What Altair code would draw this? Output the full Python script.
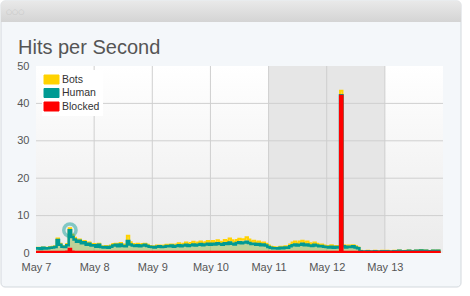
import altair as alt
import pandas as pd

# ---------------- data (hourly, May 7 00:00 UTC .. May 13 23:00 UTC, 2013) ----------------
series_names = ["Bots", "Human", "Blocked"]
series_colors = ["#FFD200", "#009A93", "#FF0000"]

human = (
    [0.9, 1.0, 0.8, 1.1, 0.9, 1.0, 1.1, 1.2, 1.3, 3.2, 1.9, 1.4, 1.3, 1.7, 5.0, 3.9, 3.3, 2.7, 3.0, 2.3, 2.6, 1.9, 2.2, 1.7]
    + [1.8, 1.4, 1.9, 1.3, 1.2, 1.3, 1.1, 1.4, 1.7, 1.9, 1.5, 2.0, 1.6, 1.5, 2.9, 2.0, 1.7, 1.6, 1.8, 1.5, 1.7, 1.9, 1.6, 1.4]
    + [1.3, 1.2, 1.4, 1.5, 1.3, 1.4, 1.6, 1.5, 1.7, 1.4, 1.6, 1.8, 1.5, 1.7, 1.9, 1.6, 1.8, 2.0, 1.7, 1.9, 2.1, 1.8, 2.0, 2.2]
    + [1.9, 2.2, 2.0, 2.3, 2.1, 1.9, 2.3, 2.1, 2.5, 2.2, 2.0, 2.4, 2.6, 2.3, 2.5, 2.7, 2.4, 2.1, 2.2, 1.9, 2.1, 1.8, 2.0, 1.7]
    + [1.3, 1.1, 1.0, 1.0, 0.9, 1.1, 1.0, 1.2, 1.1, 1.5, 1.8, 2.0, 1.7, 1.9, 2.2, 1.8, 2.0, 1.7, 1.6, 1.9, 1.7, 1.5, 1.6, 1.4]
    + [1.3, 1.2, 1.4, 1.1, 1.3, 1.2, 0.2, 1.5, 1.2, 1.4, 1.3, 1.5, 1.2, 1.0, 0.2, 0.1, 0.1, 0.2, 0.1, 0.1, 0.2, 0.1, 0.1, 0.2]
    + [0.1, 0.2, 0.1, 0.1, 0.2, 0.1, 0.3, 0.2, 0.1, 0.2, 0.3, 0.2, 0.1, 0.3, 0.2, 0.4, 0.2, 0.3, 0.2, 0.1, 0.3, 0.2, 0.3, 0.2]
)
bots = (
    [0.2, 0.1, 0.2, 0.1, 0.2, 0.1, 0.2, 0.2, 0.2, 0.4, 0.3, 0.2, 0.2, 0.3, 0.5, 0.6, 0.5, 0.4, 0.3, 0.3, 0.3, 0.2, 0.3, 0.2]
    + [0.3, 0.2, 0.3, 0.2, 0.2, 0.3, 0.2, 0.3, 0.4, 0.3, 0.3, 0.4, 0.3, 0.5, 1.4, 0.6, 0.4, 0.3, 0.4, 0.3, 0.4, 0.3, 0.3, 0.2]
    + [0.2, 0.2, 0.3, 0.2, 0.2, 0.3, 0.3, 0.4, 0.3, 0.3, 0.4, 0.5, 0.4, 0.5, 0.6, 0.5, 0.6, 0.7, 0.5, 0.6, 0.7, 0.5, 0.6, 0.7]
    + [0.6, 0.7, 0.5, 0.8, 0.6, 0.7, 0.9, 0.8, 1.1, 0.9, 0.7, 0.8, 0.9, 1.0, 0.9, 1.2, 0.9, 0.7, 0.8, 0.6, 0.7, 0.6, 0.5, 0.5]
    + [0.4, 0.3, 0.3, 0.2, 0.3, 0.3, 0.2, 0.3, 0.3, 0.5, 0.7, 0.8, 0.6, 0.9, 0.8, 0.7, 0.8, 0.6, 0.5, 0.6, 0.5, 0.4, 0.4, 0.3]
    + [0.3, 0.3, 0.4, 0.3, 0.3, 0.4, 1.2, 0.3, 0.4, 0.3, 0.4, 0.3, 0.3, 0.2, 0.1, 0.0, 0.0, 0.1, 0.0, 0.0, 0.1, 0.0, 0.0, 0.1]
    + [0.0, 0.1, 0.0, 0.0, 0.1, 0.0, 0.1, 0.0, 0.0, 0.1, 0.1, 0.0, 0.0, 0.1, 0.0, 0.1, 0.0, 0.1, 0.0, 0.0, 0.1, 0.0, 0.1, 0.0]
)
blocked = (
    [0.3, 0.3, 0.3, 0.3, 0.3, 0.3, 0.3, 0.3, 0.3, 0.3, 0.3, 0.3, 0.3, 0.4, 1.1, 0.4, 0.3, 0.3, 0.3, 0.3, 0.3, 0.3, 0.3, 0.3]
    + [0.3, 0.3, 0.3, 0.3, 0.3, 0.3, 0.3, 0.3, 0.3, 0.3, 0.3, 0.3, 0.3, 0.3, 0.3, 0.3, 0.3, 0.3, 0.3, 0.3, 0.3, 0.3, 0.3, 0.3]
    + [0.3, 0.3, 0.3, 0.3, 0.3, 0.3, 0.3, 0.3, 0.3, 0.3, 0.3, 0.3, 0.3, 0.3, 0.3, 0.3, 0.3, 0.3, 0.3, 0.3, 0.3, 0.3, 0.3, 0.3]
    + [0.3, 0.3, 0.3, 0.3, 0.3, 0.3, 0.3, 0.3, 0.3, 0.3, 0.3, 0.3, 0.3, 0.3, 0.3, 0.3, 0.3, 0.3, 0.3, 0.3, 0.3, 0.3, 0.3, 0.3]
    + [0.3, 0.3, 0.3, 0.3, 0.3, 0.3, 0.3, 0.3, 0.3, 0.3, 0.3, 0.3, 0.3, 0.3, 0.3, 0.3, 0.3, 0.3, 0.3, 0.3, 0.3, 0.3, 0.3, 0.3]
    + [0.3, 0.3, 0.3, 0.3, 0.3, 0.3, 42.0, 0.3, 0.3, 0.3, 0.3, 0.3, 0.3, 0.3, 0.3, 0.3, 0.3, 0.3, 0.3, 0.3, 0.3, 0.3, 0.3, 0.3]
    + [0.3, 0.3, 0.3, 0.3, 0.3, 0.3, 0.3, 0.3, 0.3, 0.3, 0.3, 0.3, 0.3, 0.3, 0.3, 0.3, 0.3, 0.3, 0.3, 0.3, 0.3, 0.3, 0.3, 0.3]
)
y_ticks = [0, 10, 20, 30, 40, 50]
day_ticks = ["2013-05-07", "2013-05-08", "2013-05-09", "2013-05-10", "2013-05-11", "2013-05-12", "2013-05-13"]
weekend = ("2013-05-11T00:00:00Z", "2013-05-13T00:00:00Z")
x_range = ("2013-05-07T00:00:00Z", "2013-05-14T00:00:00Z")
title_text = "Hits per Second"

# ---------------- tables ----------------
times = pd.date_range("2013-05-07", periods=len(human), freq="h")
tstr = [t.strftime("%Y-%m-%dT%H:%M:%SZ") for t in times]
rows = []
for i, t in enumerate(tstr):
    b = blocked[i]
    h = b + human[i]
    tot = h + bots[i]
    rows.append({"time": t, "series": "Blocked", "top": b})
    rows.append({"time": t, "series": "Human", "top": h})
    rows.append({"time": t, "series": "Bots", "top": tot})
df = pd.DataFrame(rows)

peak_i = max(range(24), key=lambda k: human[k])
peak_df = pd.DataFrame([{"time": tstr[peak_i], "top": blocked[peak_i] + human[peak_i]}])
band_df = pd.DataFrame([{"start": weekend[0], "end": weekend[1]}])
bg_df = pd.DataFrame([{"start": x_range[0], "end": x_range[1]}])
ygrid_df = pd.DataFrame({"v": y_ticks[1:-1]})
xgrid_df = pd.DataFrame({"d": [d + "T00:00:00Z" for d in day_ticks[1:]]})
one = pd.DataFrame([{"k": 0}])

FONT = "Liberation Sans"


def dt(d):
    return alt.DateTime(year=2013, month=5, date=d, utc=True)


xscale = alt.Scale(type="utc", domain=[dt(7), dt(14)], nice=False)
xaxis = alt.Axis(
    values=[dt(int(d[-2:])) for d in day_ticks],
    labelExpr="utcFormat(datum.value, '%b %-d')",
    title=None, ticks=False, tickSize=0, domain=False, labelPadding=8,
    labelFlush=False, labelOverlap=False, labelFontSize=11, labelColor="#555",
    labelFont=FONT, grid=False, zindex=1,
)
yscale = alt.Scale(domain=[0, 50], nice=False)
yaxis = alt.Axis(
    values=y_ticks, title=None, ticks=False, tickSize=0, domain=False,
    labelPadding=7, labelFontSize=11, labelColor="#555", labelFont=FONT,
    grid=False, zindex=1,
)

color = alt.Color(
    "series:N",
    scale=alt.Scale(domain=series_names, range=series_colors),
    legend=alt.Legend(
        title=None, orient="none", legendX=6, legendY=4, fillColor="white",
        padding=3, symbolType="M-1.25,-0.75H1.25V0.75H-1.25Z", symbolSize=144,
        symbolStrokeColor="#b0b0b0", symbolStrokeWidth=1, symbolOpacity=1,
        labelFontSize=10.5, labelColor="#333", labelFont=FONT, rowPadding=0.5,
        labelOffset=4,
    ),
)

# ---------------- window chrome ----------------
body = alt.Chart(one).mark_rect(fill="#f4f7fa", stroke="#d3d8dd", strokeWidth=1, cornerRadius=4).encode(
    x=alt.value(-35), x2=alt.value(425), y=alt.value(-65), y2=alt.value(221)
)
bar = alt.Chart(one).mark_rect(
    fill=alt.Gradient(gradient="linear", x1=0, x2=0, y1=0, y2=1,
                      stops=[alt.GradientStop(color="#e9e9e9", offset=0),
                             alt.GradientStop(color="#d4d4d4", offset=1)]),
    cornerRadiusTopLeft=4, cornerRadiusTopRight=4,
).encode(x=alt.value(-35), x2=alt.value(425), y=alt.value(-65), y2=alt.value(-44))
dots = alt.Chart(one).mark_text(text="○○○", fontSize=7, color="#c4c4c4", align="left", font="DejaVu Sans").encode(
    x=alt.value(-30), y=alt.value(-54)
)
title = alt.Chart(one).mark_text(
    text=title_text, fontSize=20, font=FONT, color="#555", align="left", baseline="alphabetic",
).encode(x=alt.value(-18), y=alt.value(-12))

# ---------------- plot background & grid ----------------
bg = alt.Chart(bg_df).mark_rect(
    fill=alt.Gradient(gradient="linear", x1=0, x2=0, y1=0, y2=1,
                      stops=[alt.GradientStop(color="#ffffff", offset=0),
                             alt.GradientStop(color="#ebebeb", offset=1)]),
).encode(
    x=alt.X("start:T", scale=xscale, axis=xaxis), x2="end:T",
    y=alt.Y(datum=50, scale=yscale, axis=yaxis), y2=alt.datum(0),
)
band = alt.Chart(band_df).mark_rect(fill="#e6e6e6").encode(
    x=alt.X("start:T", scale=xscale, axis=xaxis), x2="end:T",
    y=alt.Y(datum=50, scale=yscale, axis=yaxis), y2=alt.datum(0),
)
ygrid = alt.Chart(ygrid_df).mark_rule(color="#cfcfcf", strokeWidth=1).encode(
    y=alt.Y("v:Q", scale=yscale, axis=yaxis)
)
xgrid = alt.Chart(xgrid_df).mark_rule(color="#cfcfcf", strokeWidth=1).encode(
    x=alt.X("d:T", scale=xscale, axis=xaxis)
)


def series_layer(name, fill_op, sw):
    return alt.Chart(df).transform_filter(alt.datum.series == name).mark_area(
        fillOpacity=fill_op, line={"strokeWidth": sw}, interpolate="step",
    ).encode(
        x=alt.X("time:T", scale=xscale, axis=xaxis),
        y=alt.Y("top:Q", scale=yscale, axis=yaxis),
        y2=alt.datum(0),
        color=color,
    )


bots_l = series_layer("Bots", 0.35, 2)
human_l = series_layer("Human", 0.22, 2.5)
blocked_l = series_layer("Blocked", 1.0, 2.2)

ring = alt.Chart(peak_df).mark_point(
    shape="circle", size=150, filled=False, stroke="#009A93", strokeWidth=3.5, opacity=0.45,
).encode(
    x=alt.X("time:T", scale=xscale, axis=xaxis),
    y=alt.Y("top:Q", scale=yscale, axis=yaxis),
)

chart = alt.layer(body, bar, dots, title, bg, band, ygrid, xgrid, bots_l, human_l, blocked_l, ring).properties(
    width=407, height=187,
    autosize=alt.AutoSizeParams(type="none"),
    padding={"left": 36, "top": 66, "right": 27, "bottom": 43},
    background="white",
).configure_view(stroke="#505050", strokeWidth=2.5)

chart.save("out.html", embed_options={"renderer": "svg", "actions": False})
